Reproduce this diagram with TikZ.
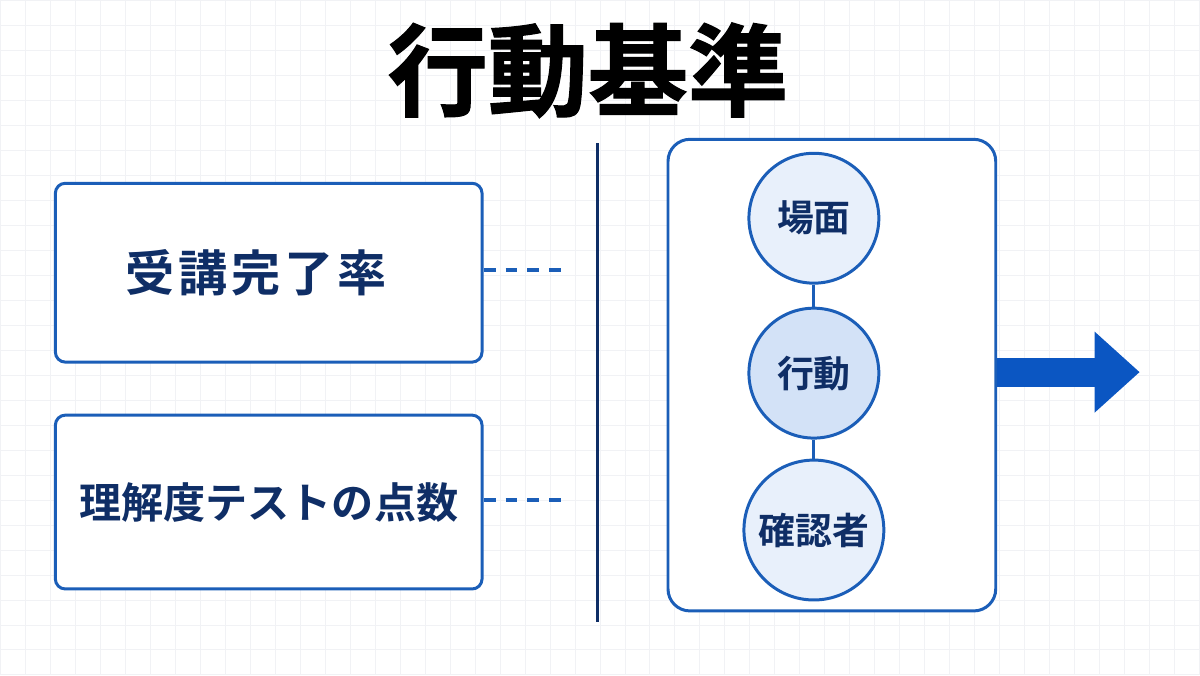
\documentclass[tikz,border=0pt]{standalone}
\usepackage{fontspec}
\usetikzlibrary{arrows.meta}
\newfontfamily\jpfont{Noto Sans CJK JP}[BoldFont={* Bold}]
\newfontfamily\jptitle{Noto Sans CJK JP Bold}[FakeBold=1.2]
\definecolor{edgeblue}{HTML}{1B5EB8}
\definecolor{navy}{HTML}{0F2E66}
\definecolor{lightfill}{HTML}{E8F0FB}
\definecolor{midfill}{HTML}{D3E2F7}
\definecolor{arrowblue}{HTML}{0B56C2}
\definecolor{gridline}{HTML}{F1F2F5}
\begin{document}
\begin{tikzpicture}[x=0.02cm,y=-0.02cm,
    metricbox/.style={draw=edgeblue,line width=1.7pt,fill=white,rounded corners=0.2cm,
      minimum width=8.54cm,inner sep=0pt,text=navy,font=\jpfont\bfseries\fontsize{24}{28}\selectfont},
    stagecircle/.style={circle,draw=edgeblue,line width=1.7pt,minimum size=2.6cm,inner sep=0pt,
      text=navy,font=\jpfont\bfseries\fontsize{21}{24}\selectfont},
    link/.style={draw=edgeblue,line width=1.7pt},
    dashlink/.style={draw=edgeblue,line width=2pt,dash pattern=on 0.24cm off 0.2cm}]
  \fill[white] (0,0) rectangle (1200,675);
  \draw[gridline,step=0.5cm] (0,0) grid (1200,675);
  \useasboundingbox (0,0) rectangle (1200,675);

  \node[font=\jptitle\fontsize{57}{62}\selectfont] (title) at (588,70) {行動基準};

  \node[metricbox,minimum height=3.58cm] (rate) at (268.5,272.5)
    {\fontsize{28}{32}\selectfont\addfontfeature{LetterSpace=8}受講完了率\hspace*{0.5cm}};
  \node[metricbox,minimum height=3.48cm] (score) at (268.5,502) {理解度テストの点数};

  \coordinate (rateend) at (568,270);
  \coordinate (scoreend) at (568,500);
  \draw[dashlink] (rate.east |- rateend) -- (rateend);
  \draw[dashlink] (score.east |- scoreend) -- (scoreend);

  \draw[navy,line width=1.7pt] (597,143) -- (597,622);

  \node[draw=edgeblue,line width=1.7pt,fill=white,rounded corners=0.44cm,
    minimum width=6.56cm,minimum height=9.44cm] (standard) at (832,375) {};

  \node[stagecircle,fill=lightfill] (scene) at (814,218) {場面};
  \node[stagecircle,fill=midfill] (action) at (814,373) {行動};
  \node[stagecircle,fill=lightfill,minimum size=2.8cm] (checker) at (814,530) {確認者};
  \draw[link] (scene) -- (action);
  \draw[link] (action) -- (checker);

  \coordinate (arrowtip) at (1140,372);
  \draw[arrowblue,line width=0.58cm,-{Triangle[length=0.9cm,width=1.56cm]}]
    (standard.east |- arrowtip) -- (arrowtip);
\end{tikzpicture}
\end{document}
